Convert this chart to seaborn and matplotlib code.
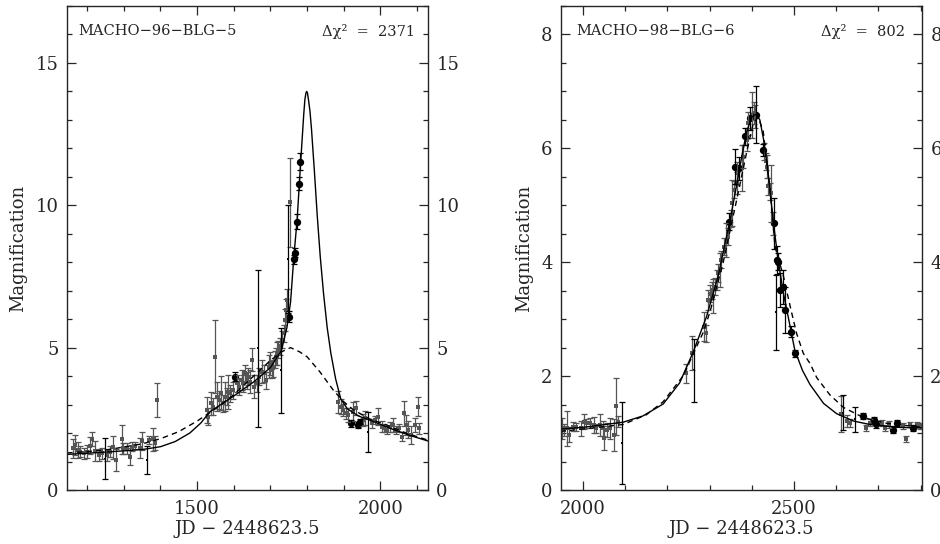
import matplotlib
matplotlib.use("Agg")
import matplotlib.pyplot as plt
import seaborn as sns
from matplotlib.ticker import MultipleLocator

# ---- MACHO-96-BLG-5 (left panel) ----
l_gray_x = [1161, 1167, 1174, 1181, 1192, 1199, 1208, 1213, 1222, 1231, 1240, 1254, 1263, 1270,
            1279, 1295, 1299, 1308, 1316, 1322, 1331, 1343, 1349, 1370, 1379, 1386, 1390,
            1526, 1531, 1537, 1543, 1549, 1555, 1561, 1565, 1572, 1576, 1581, 1585, 1590, 1597,
            1608, 1615, 1622, 1626, 1631, 1635, 1640, 1645, 1649, 1655, 1663, 1670, 1676, 1683,
            1688, 1695, 1699, 1704, 1708, 1713, 1715, 1719, 1722, 1725, 1731, 1736, 1740, 1743,
            1745, 1754,
            1885, 1892, 1899, 1906, 1913, 1926, 1933, 1952, 1958, 1976, 1985, 1994, 2004, 2010,
            2017, 2026, 2034, 2043, 2052, 2058, 2064, 2070, 2076, 2085, 2095, 2104, 2106]
l_gray_y = [1.46, 1.58, 1.41, 1.35, 1.29, 1.35, 1.55, 1.80, 1.38, 1.23, 1.29, 1.23, 1.35, 1.50,
            1.05, 1.78, 1.46, 1.46, 1.17, 1.52, 1.55, 1.46, 1.72, 1.76, 1.78, 1.64, 3.16,
            2.81, 2.58, 3.04, 2.93, 4.68, 3.28, 3.16, 3.40, 3.04, 3.28, 3.28, 3.45, 3.40, 3.51,
            3.75, 3.63, 3.86, 3.75, 4.10, 3.86, 3.98, 3.80, 4.57, 3.63, 3.75, 3.98, 4.16, 4.10,
            3.86, 4.33, 4.45, 4.22, 4.27, 4.57, 4.68, 4.80, 4.92, 5.04, 5.27, 5.50, 5.97, 6.32,
            6.67, 10.10,
            3.10, 2.93, 2.81, 2.69, 2.63, 2.75, 2.87, 2.46, 2.52, 2.34, 2.46, 2.58, 2.22, 2.17,
            2.11, 2.22, 2.28, 2.11, 2.17, 1.87, 2.69, 2.28, 2.11, 1.93, 2.28, 2.93, 2.17]
l_gray_err = [0.33, 0.35, 0.29, 0.20, 0.20, 0.22, 0.30, 0.25, 0.35, 0.20, 0.20, 0.20, 0.20, 0.40,
              0.40, 0.50, 0.20, 0.20, 0.30, 0.15, 0.12, 0.35, 0.30, 0.14, 0.40, 0.25, 0.60,
              0.45, 0.30, 0.40, 0.30, 1.28, 0.50, 0.30, 0.60, 0.30, 0.50, 0.30, 0.60, 0.30, 0.30,
              0.30, 0.30, 0.35, 0.30, 0.30, 0.30, 0.30, 0.40, 0.40, 0.40, 0.30, 0.30, 0.40, 0.30,
              0.30, 0.40, 0.40, 0.30, 0.30, 0.30, 0.30, 0.40, 0.30, 0.30, 0.30, 0.30, 0.40, 0.40,
              0.40, 1.55,
              0.38, 0.25, 0.20, 0.20, 0.25, 0.33, 0.25, 0.20, 0.25, 0.15, 0.15, 0.30, 0.20, 0.15,
              0.15, 0.18, 0.25, 0.15, 0.15, 0.15, 0.45, 0.35, 0.30, 0.30, 0.25, 0.33, 0.20]
l_black_x = [1248, 1363, 1665, 1728, 1747, 1967]
l_black_y = [1.10, 1.05, 4.97, 4.20, 8.10, 2.05]
l_black_err = [0.72, 0.50, 2.75, 1.50, 1.90, 0.70]
l_dot_x = [1604, 1752, 1764, 1767, 1773, 1778, 1782, 1920, 1938, 1944]
l_dot_y = [3.98, 6.09, 8.10, 8.34, 9.43, 10.75, 11.53, 2.34, 2.28, 2.40]
l_dot_err = [0.15, 0.20, 0.15, 0.15, 0.26, 0.23, 0.30, 0.12, 0.10, 0.10]

# binary-lens fit (solid) and point-lens fit (dashed)
l_fit_x = [1145, 1250, 1350, 1400, 1440, 1480, 1510, 1535, 1565, 1600, 1655, 1700, 1730, 1745,
           1755, 1764, 1773, 1782, 1787, 1791, 1794, 1797, 1799, 1801, 1804, 1808, 1812, 1820,
           1828, 1836, 1845, 1855, 1865, 1878, 1892, 1910, 1940, 1972, 2030, 2080, 2130]
l_fit_y = [1.25, 1.33, 1.42, 1.52, 1.70, 2.00, 2.35, 2.75, 3.00, 3.30, 3.80, 4.30, 4.90, 5.70,
           6.60, 8.20, 9.50, 11.40, 12.40, 13.20, 13.70, 13.95, 14.00, 13.95, 13.70, 13.30, 12.70,
           11.20, 9.60, 8.20, 6.90, 5.70, 4.80, 3.90, 3.20, 2.85, 2.60, 2.45, 2.15, 1.92, 1.72]
l_pspl_x = [1145, 1250, 1350, 1400, 1450, 1500, 1550, 1600, 1650, 1700, 1730, 1755, 1780, 1800,
            1835, 1872, 1900, 1926, 1970, 2017, 2070, 2130]
l_pspl_y = [1.30, 1.40, 1.62, 1.80, 2.05, 2.42, 2.85, 3.35, 3.95, 4.55, 4.85, 5.00, 4.85, 4.68,
            4.15, 3.50, 3.10, 2.82, 2.50, 2.28, 2.00, 1.75]

# ---- MACHO-98-BLG-6 (right panel) ----
r_gray_x = [1950, 1955, 1963, 1968, 1976, 1984, 1995, 2002, 2008, 2016, 2026, 2032, 2040, 2048,
            2051, 2058, 2063, 2074, 2079, 2083,
            2245, 2259, 2286, 2291, 2297, 2301, 2305, 2309, 2313, 2317, 2320, 2324, 2328, 2334,
            2339, 2343, 2350, 2354, 2358, 2364, 2366, 2376, 2380, 2388, 2392, 2400, 2404, 2408,
            2429, 2434, 2437, 2439, 2442, 2445, 2449,
            2611, 2625, 2633, 2671, 2680, 2708, 2716, 2726, 2758, 2766, 2774, 2791, 2799]
r_gray_y = [1.08, 1.05, 1.08, 0.97, 1.11, 1.11, 1.08, 1.20, 1.17, 1.17, 1.14, 1.08, 1.14, 1.08,
            0.91, 1.05, 1.08, 0.97, 1.47, 1.20,
            2.05, 2.40, 2.87, 2.75, 3.34, 3.45, 3.51, 3.40, 3.57, 3.69, 3.81, 3.86, 4.04, 4.27,
            4.39, 4.45, 4.77, 5.04, 5.27, 5.56, 5.39, 5.65, 5.85, 6.15, 6.44, 6.59, 6.62, 6.56,
            5.94, 5.77, 5.68, 5.33, 5.24, 5.21, 4.68,
            1.33, 1.21, 1.18, 1.09, 1.18, 1.18, 1.09, 1.15, 1.12, 0.90, 1.15, 1.15, 1.12]
r_gray_err = [0.19, 0.10, 0.30, 0.13, 0.08, 0.07, 0.13, 0.13, 0.08, 0.09, 0.14, 0.08, 0.19, 0.14,
              0.21, 0.12, 0.18, 0.28, 0.50, 0.10,
              0.17, 0.30, 0.25, 0.15, 0.18, 0.15, 0.15, 0.30, 0.15, 0.18, 0.15, 0.30, 0.15, 0.15,
              0.30, 0.15, 0.15, 0.40, 0.15, 0.20, 0.20, 0.40, 0.20, 0.20, 0.20, 0.40, 0.20, 0.20,
              0.15, 0.15, 0.20, 0.15, 0.15, 0.50, 0.20,
              0.32, 0.10, 0.07, 0.05, 0.06, 0.05, 0.05, 0.06, 0.05, 0.05, 0.05, 0.05, 0.05]
r_black_x = [2093, 2263, 2457, 2617, 2645]
r_black_y = [0.83, 2.10, 3.12, 1.36, 1.24]
r_black_err = [0.72, 0.55, 0.66, 0.30, 0.22]
r_dot_x = [2347, 2360, 2370, 2385, 2396, 2411, 2426, 2453, 2459, 2463, 2467, 2475, 2479, 2492,
           2502, 2663, 2690, 2695, 2734, 2745, 2782]
r_dot_y = [4.71, 5.68, 5.65, 6.21, 6.53, 6.59, 5.97, 4.68, 4.04, 4.01, 3.51, 3.57, 3.16, 2.78,
           2.40, 1.30, 1.23, 1.15, 1.06, 1.18, 1.09]
r_dot_err = [0.15, 0.30, 0.20, 0.15, 0.20, 0.50, 0.10, 0.45, 0.25, 0.15, 0.30, 0.30, 0.40, 0.10,
             0.06, 0.05, 0.06, 0.06, 0.06, 0.05, 0.05]

r_fit_x = [1946, 2000, 2095, 2142, 2190, 2229, 2261, 2293, 2320, 2348, 2364, 2376, 2388, 2400,
           2410, 2419, 2428, 2439, 2451, 2463, 2475, 2490, 2502, 2520, 2538, 2570, 2601, 2641,
           2680, 2744, 2803]
r_fit_y = [1.07, 1.10, 1.19, 1.30, 1.51, 1.88, 2.42, 3.05, 3.75, 4.72, 5.35, 5.85, 6.30, 6.55,
           6.60, 6.50, 6.15, 5.55, 4.70, 4.00, 3.45, 2.90, 2.45, 2.10, 1.85, 1.52, 1.34, 1.21,
           1.15, 1.10, 1.09]
r_pspl_x = [1946, 2000, 2095, 2150, 2190, 2237, 2285, 2301, 2332, 2364, 2388, 2403, 2415, 2427,
            2443, 2455, 2475, 2491, 2506, 2522, 2538, 2554, 2585, 2617, 2665, 2720, 2803]
r_pspl_y = [1.03, 1.07, 1.15, 1.32, 1.55, 2.00, 2.77, 3.13, 3.99, 5.09, 5.94, 6.43, 6.55, 6.30,
            5.30, 4.27, 3.75, 3.22, 2.75, 2.40, 2.22, 1.97, 1.67, 1.45, 1.27, 1.17, 1.10]

sns.set_style("ticks")
plt.rcParams['font.family'] = ['DejaVu Serif']
plt.rcParams['axes.linewidth'] = 1.0

GRAY = '#555555'


def draw_panel(ax, gx, gy, ge, bx, by, be, dx, dy, de, fx, fy, px, py,
               xlim, ylim, xmaj, ymaj, ymin, name, chi, name_x, chi_x):
    # error bars first, markers on top
    ax.errorbar(gx, gy, yerr=ge, fmt='none', ecolor=GRAY, elinewidth=0.9, capsize=2.5, capthick=0.9)
    ax.errorbar(bx, by, yerr=be, fmt='none', ecolor='black', elinewidth=0.9, capsize=2.5, capthick=0.9)
    ax.errorbar(dx, dy, yerr=de, fmt='none', ecolor='black', elinewidth=0.9, capsize=2.5, capthick=0.9)
    sns.scatterplot(x=gx, y=gy, ax=ax, color=GRAY, marker='s', s=6, linewidth=0)
    sns.scatterplot(x=bx, y=by, ax=ax, color='black', marker='s', s=4, linewidth=0)
    sns.scatterplot(x=dx, y=dy, ax=ax, color='black', marker='o', s=28, linewidth=0)

    sns.lineplot(x=fx, y=fy, ax=ax, color='black', lw=1.0, sort=False, estimator=None)
    sns.lineplot(x=px, y=py, ax=ax, color='black', lw=1.0, sort=False, estimator=None,
                 linestyle=(0, (4, 3)))

    ax.set_xlim(*xlim)
    ax.set_ylim(*ylim)
    ax.xaxis.set_major_locator(MultipleLocator(xmaj))
    ax.xaxis.set_minor_locator(MultipleLocator(100))
    ax.yaxis.set_major_locator(MultipleLocator(ymaj))
    ax.yaxis.set_minor_locator(MultipleLocator(ymin))
    ax.tick_params(which='both', direction='in', top=True, right=True, labelright=True,
                   labelsize=13, width=0.9)
    ax.tick_params(which='major', length=6.5)
    ax.tick_params(which='minor', length=3.6)
    ax.tick_params(axis='x', pad=7)
    ax.tick_params(axis='y', pad=6)

    ax.set_xlabel('JD \u2212 2448623.5', fontsize=13, labelpad=2)
    ax.set_ylabel('Magnification', fontsize=13, labelpad=6)

    ax.text(name_x, 0.948, name, transform=ax.transAxes, fontsize=10.5, ha='left', va='center')
    ax.text(chi_x, 0.948, chi, transform=ax.transAxes, fontsize=10.5, ha='right', va='center')


fig = plt.figure(figsize=(9.4, 5.44), dpi=100)
ax1 = fig.add_axes([0.0713, 0.0993, 0.384, 0.8897])
ax2 = fig.add_axes([0.5968, 0.0993, 0.384, 0.8897])

draw_panel(ax1, l_gray_x, l_gray_y, l_gray_err, l_black_x, l_black_y, l_black_err,
           l_dot_x, l_dot_y, l_dot_err, l_fit_x, l_fit_y, l_pspl_x, l_pspl_y,
           (1145, 2130), (0, 17), 500, 5, 1,
           'MACHO\u221296\u2212BLG\u22125', '\u0394\u03c7\u00b2  =  2371', 0.03, 0.964)
draw_panel(ax2, r_gray_x, r_gray_y, r_gray_err, r_black_x, r_black_y, r_black_err,
           r_dot_x, r_dot_y, r_dot_err, r_fit_x, r_fit_y, r_pspl_x, r_pspl_y,
           (1948, 2803), (0, 8.5), 500, 2, 0.5,
           'MACHO\u221298\u2212BLG\u22126', '\u0394\u03c7\u00b2  =  802', 0.042, 0.953)

fig.savefig('out.png', dpi=100)
